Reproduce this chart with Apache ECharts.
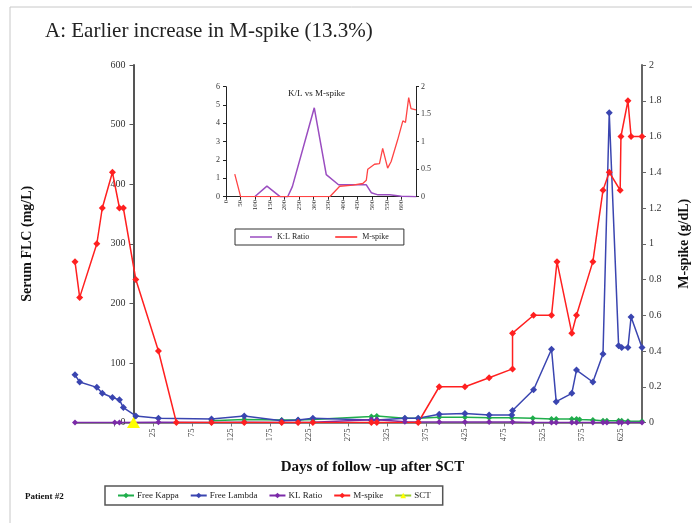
<!DOCTYPE html>
<html>
<head>
<meta charset="utf-8">
<script src="https://cdn.jsdelivr.net/npm/echarts@6/dist/echarts.min.js"></script>
<style>
html,body{margin:0;padding:0;background:#fff;}
#c{width:692px;height:523px;}
</style>
</head>
<body>
<div id="c"></div>
<script>
// ---- main chart data ----
var kappaDays = [100,142,190,211,230,305,312,348,365,392,425,456,485,512,536,542,562,568,572,589,602,607,622,626,634,652];
var kappa     = [3,5,4,4,5,10,11,7,7,9,9,8,8,7,6,6,6,6,5,4,3,3,3,3,2,2];

var lambdaDays = [-75,-69,-47,-40,-27,-18,-13,3,32,100,142,190,211,230,305,312,348,365,392,425,456,485,486,513,536,542,562,568,589,602,610,622,626,634,638,652];
var lambda     = [80,68,59,49,42,38,25,11,7,6,11,3,4,7,4,4,7,7,14,15,12.5,12.5,20,55,123,35,49,88,68,115,520,129,126,126,177,126];

var klDays = [-75,-24,-18,32,100,142,190,211,230,305,312,348,365,392,425,456,486,512,536,542,562,568,589,602,607,622,626,634,652];
var klRatio = [0.2,0.2,0.2,0.3,0,0.6,0,0,0.5,4.8,4.5,1.2,0.9,0.65,0.7,0.7,0.65,0.1,0.05,0.05,0.1,0.1,0.05,0.03,0.03,0.02,0.02,0.02,0];

var mDays = [-75,-69,-47,-40,-27,-18,-13,3,32,55,100,142,190,211,230,305,312,365,392,425,456,486,486,513,536,543,562,568,589,602,610,624,625,634,638,652];
var mSpike = [0.9,0.7,1.0,1.2,1.4,1.2,1.2,0.8,0.4,0,0,0,0,0,0,0,0,0,0.2,0.2,0.25,0.3,0.5,0.6,0.6,0.9,0.5,0.6,0.9,1.3,1.4,1.3,1.6,1.8,1.6,1.6];

var sctDays = [0];
var sct = [0];

var xTickValues  = [-25,25,75,125,175,225,275,325,375,425,475,525,575,625];
var xLabelValues = [25,75,125,175,225,275,325,375,425,475,525,575,625];

// ---- inset data ----
var insetKLDays = [98,140,185,211,227,302,343,385,480,497,520,560,600,650];
var insetKL     = [0,0.58,0,0,0.55,4.85,1.2,0.65,0.65,0.22,0.1,0.1,0.02,0];
var insetMDays  = [30,50,355,389,434,468,480,485,508,525,536,553,565,587,605,614,625,633,650];
var insetM      = [0.41,0,0,0.19,0.21,0.24,0.30,0.50,0.59,0.6,0.88,0.52,0.64,1.03,1.38,1.35,1.8,1.6,1.58];

function zip(a,b){ return a.map(function(v,i){ return [v,b[i]]; }); }

var SERIF = 'Liberation Serif';
var C_K = '#1fae4b', C_L = '#3a45b0', C_R = '#7b2aa8', C_M = '#ff2020';

var chart = echarts.init(document.getElementById('c'), null, {renderer:'canvas'});
var option = {
  animation:false,
  backgroundColor:'#fff',
  title:[
    {text:'A: Earlier increase in M-spike (13.3%)', left:45, top:21, padding:0,
     textStyle:{fontFamily:SERIF, fontSize:21, fontWeight:'normal', color:'#222'}},
    {text:'K/L vs M-spike', left:288, top:89, padding:0,
     textStyle:{fontFamily:SERIF, fontSize:9, fontWeight:'normal', color:'#222'}}
  ],
  graphic:[
    {type:'rect', shape:{x:10,y:7,width:700,height:530}, style:{fill:'none', stroke:'#c8c8c8', lineWidth:1}, silent:true},
    {type:'text', left:25, top:492, style:{text:'Patient #2', fontFamily:SERIF, fontSize:9, fontWeight:'bold', fill:'#111'}}
  ],
  legend:[
    {left:105, top:486, padding:[5,12], itemGap:11, itemWidth:16, itemHeight:7,
     borderColor:'#555', borderWidth:1.5,
     textStyle:{fontFamily:SERIF, fontSize:9, color:'#222', padding:[0,0,0,-2]},
     data:['Free Kappa','Free Lambda','KL Ratio','M-spike','SCT']},
    {left:235, top:229, padding:[4,15], itemGap:26, itemWidth:22, itemHeight:1.5, icon:'rect',
     borderColor:'#333', borderWidth:1,
     textStyle:{fontFamily:SERIF, fontSize:8, color:'#222'},
     data:['K:L Ratio','M-spike']}
  ],
  grid:[
    {left:75, right:50, top:65, bottom:100.5, containLabel:false, outerBoundsMode:'none'},
    {left:226, width:190, top:86.7, height:110, containLabel:false, outerBoundsMode:'none'}
  ],
  xAxis:[
    {type:'value', gridIndex:0, min:-75, max:652,
     axisLine:{onZero:false, lineStyle:{color:'#8a8a8a', width:2}},
     axisTick:{show:true, customValues:xTickValues, length:4, lineStyle:{color:'#777', width:1}},
     axisLabel:{customValues:xLabelValues, rotate:90, fontFamily:SERIF, fontSize:8.5, color:'#444', margin:6},
     splitLine:{show:false},
     name:'Days of follow -up after SCT', nameLocation:'middle', nameGap:37,
     nameTextStyle:{fontFamily:SERIF, fontSize:15, fontWeight:'bold', color:'#111', padding:[0,0,0,28]}},
    {type:'value', gridIndex:1, min:0, max:650, interval:50,
     axisLine:{onZero:false, lineStyle:{color:'#222', width:1}},
     axisTick:{length:3, lineStyle:{color:'#222'}},
     axisLabel:{rotate:90, fontFamily:SERIF, fontSize:7, color:'#333', margin:3, showMaxLabel:false},
     splitLine:{show:false}}
  ],
  yAxis:[
    {type:'value', gridIndex:0, min:0, max:600, interval:100, position:'left', offset:-58.5,
     axisLine:{show:true, onZero:false, lineStyle:{color:'#555', width:2}},
     axisTick:{show:true, length:4, lineStyle:{color:'#555'}},
     axisLabel:{fontFamily:SERIF, fontSize:10, color:'#333', margin:8},
     splitLine:{show:false},
     name:'Serum FLC (mg/L)', nameLocation:'middle', nameGap:99, nameRotate:90,
     nameTextStyle:{fontFamily:SERIF, fontSize:14, fontWeight:'bold', color:'#111'}},
    {type:'value', gridIndex:0, min:0, max:2, interval:0.2, position:'right',
     axisLine:{show:true, onZero:false, lineStyle:{color:'#666', width:2}},
     axisTick:{show:true, length:4, lineStyle:{color:'#666'}},
     axisLabel:{fontFamily:SERIF, fontSize:10, color:'#333', margin:7},
     splitLine:{show:false},
     name:'M-spike (g/dL)', nameLocation:'middle', nameGap:35, nameRotate:90,
     nameTextStyle:{fontFamily:SERIF, fontSize:14, fontWeight:'bold', color:'#111'}},
    {type:'value', gridIndex:1, min:0, max:6, interval:1, position:'left',
     axisLine:{show:true, onZero:false, lineStyle:{color:'#222', width:1}},
     axisTick:{show:true, length:3, lineStyle:{color:'#222'}},
     axisLabel:{fontFamily:SERIF, fontSize:8, color:'#333', margin:6},
     splitLine:{show:false}},
    {type:'value', gridIndex:1, min:0, max:2, interval:0.5, position:'right',
     axisLine:{show:true, onZero:false, lineStyle:{color:'#222', width:1}},
     axisTick:{show:true, length:3, lineStyle:{color:'#222'}},
     axisLabel:{fontFamily:SERIF, fontSize:8, color:'#333', margin:5},
     splitLine:{show:false}}
  ],
  series:[
    {name:'Free Kappa', type:'line', xAxisIndex:0, yAxisIndex:0, data:zip(kappaDays,kappa),
     symbol:'diamond', symbolSize:6, color:C_K, lineStyle:{width:1.5, color:C_K}, itemStyle:{color:C_K}},
    {name:'Free Lambda', type:'line', xAxisIndex:0, yAxisIndex:0, data:zip(lambdaDays,lambda),
     symbol:'diamond', symbolSize:7, color:C_L, lineStyle:{width:1.5, color:C_L}, itemStyle:{color:C_L}},
    {name:'KL Ratio', type:'line', xAxisIndex:0, yAxisIndex:0, data:zip(klDays,klRatio),
     symbol:'diamond', symbolSize:6, color:C_R, lineStyle:{width:1.5, color:C_R}, itemStyle:{color:C_R}},
    {name:'M-spike', type:'line', xAxisIndex:0, yAxisIndex:1, data:zip(mDays,mSpike),
     symbol:'diamond', symbolSize:7, color:C_M, lineStyle:{width:1.5, color:C_M}, itemStyle:{color:C_M}},
    {name:'SCT', type:'line', xAxisIndex:0, yAxisIndex:0, data:zip(sctDays,sct),
     symbol:'triangle', symbolSize:[13,11], color:'#ffff00', lineStyle:{width:1.5, color:'#99cc33'}, itemStyle:{color:'#ffff00'}, z:5},
    {name:'K:L Ratio', type:'line', xAxisIndex:1, yAxisIndex:2, data:zip(insetKLDays,insetKL),
     symbol:'none', color:'#9a4dc0', lineStyle:{width:1.5, color:'#9a4dc0'}},
    {name:'M-spike', type:'line', xAxisIndex:1, yAxisIndex:3, data:zip(insetMDays,insetM),
     symbol:'none', color:'#ff4444', lineStyle:{width:1.3, color:'#ff4444'}}
  ]
};
chart.setOption(option);
</script>
</body>
</html>
